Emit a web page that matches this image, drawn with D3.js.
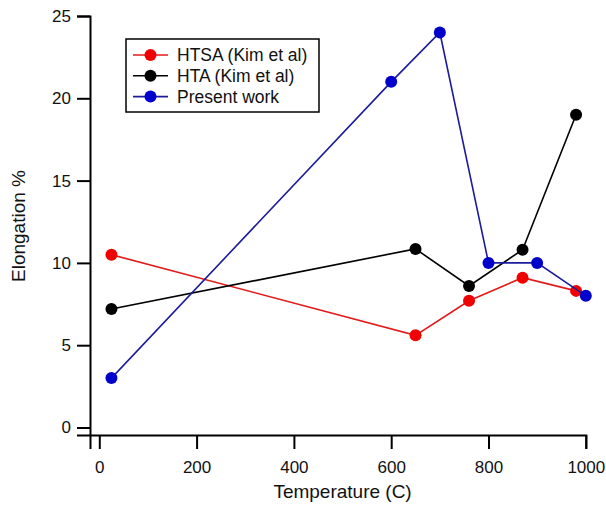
<!DOCTYPE html>
<html>
<head>
<meta charset="utf-8">
<script src="https://cdn.jsdelivr.net/npm/d3@7"></script>
<style>
  html, body { margin: 0; padding: 0; background: #fff; }
  svg { display: block; font-family: "Liberation Sans", Arial, sans-serif; }
</style>
</head>
<body>
<svg id="chart" width="606" height="506"></svg>
<script>
// Elongation vs temperature for three heat-treatment series
const htsaTemp = [25, 650, 760, 870, 980];
const htsaElong = [10.5, 5.6, 7.7, 9.1, 8.3];

const htaTemp = [25, 650, 760, 870, 980];
const htaElong = [7.2, 10.85, 8.6, 10.8, 19.0];

const presentTemp = [25, 600, 700, 800, 900, 1000];
const presentElong = [3.0, 21.0, 24.0, 10.0, 10.0, 8.0];

const seriesNames = ["HTSA (Kim et al)", "HTA (Kim et al)", "Present work"];
const xTicks = [0, 200, 400, 600, 800, 1000];
const yTicks = [0, 5, 10, 15, 20, 25];

const FONT = "'Liberation Sans', Arial, sans-serif";

const series = [
  { name: seriesNames[0], xs: htsaTemp, ys: htsaElong, line: "#e31a1a", dot: "#f00000" },
  { name: seriesNames[1], xs: htaTemp, ys: htaElong, line: "#000000", dot: "#000000" },
  { name: seriesNames[2], xs: presentTemp, ys: presentElong, line: "#1c1c9c", dot: "#0000cc" }
];

const svg = d3.select("#chart");

// Axes sit at the plot frame edges, slightly beyond the data origin
const x = d3.scaleLinear().domain([-19.1, 1000]).range([90, 585.8]);
const y = d3.scaleLinear().domain([-0.456, 25]).range([435, 16]);

const xAxis = svg.append("g")
  .attr("transform", "translate(0,435)")
  .call(d3.axisBottom(x).tickValues(xTicks).tickFormat(d3.format("d"))
    .tickSizeOuter(0).tickSize(14).tickPadding(12));

const yAxis = svg.append("g")
  .attr("transform", "translate(90,0)")
  .call(d3.axisLeft(y).tickValues(yTicks).tickFormat(d3.format("d"))
    .tickSizeOuter(0).tickSize(13).tickPadding(6));

[xAxis, yAxis].forEach(g => {
  g.select(".domain").attr("stroke", "#000").attr("stroke-width", 2);
  g.selectAll(".tick line").attr("stroke", "#000").attr("stroke-width", 2);
  g.selectAll(".tick text")
    .attr("fill", "#111")
    .style("font-size", "17px")
    .style("font-family", FONT);
});

// Axis titles
svg.append("text")
  .attr("x", (x(0) + x(1000)) / 2)
  .attr("y", 498)
  .attr("text-anchor", "middle")
  .style("font-size", "19px")
  .style("font-family", FONT)
  .attr("fill", "#111")
  .text("Temperature (C)");

svg.append("text")
  .attr("transform", "translate(25,226) rotate(-90)")
  .attr("text-anchor", "middle")
  .style("font-size", "19px")
  .style("font-family", FONT)
  .attr("fill", "#111")
  .text("Elongation %");

// Series lines and markers
const line = d3.line().x(d => x(d[0])).y(d => y(d[1]));

series.forEach(s => {
  const pts = s.xs.map((v, i) => [v, s.ys[i]]);
  const g = svg.append("g");
  g.append("path")
    .attr("d", line(pts))
    .attr("fill", "none")
    .attr("stroke", s.line)
    .attr("stroke-width", 1.6);
  g.selectAll("circle")
    .data(pts)
    .join("circle")
    .attr("cx", d => x(d[0]))
    .attr("cy", d => y(d[1]))
    .attr("r", 6)
    .attr("fill", s.dot);
});

// Legend
const legend = svg.append("g").attr("transform", "translate(126,39)");
legend.append("rect")
  .attr("width", 193)
  .attr("height", 73)
  .attr("fill", "#fff")
  .attr("stroke", "#000")
  .attr("stroke-width", 1.5);

series.forEach((s, i) => {
  const row = legend.append("g").attr("transform", `translate(0,${16 + i * 20.8})`);
  row.append("line")
    .attr("x1", 7).attr("x2", 42)
    .attr("stroke", s.line)
    .attr("stroke-width", 1.6);
  row.append("circle")
    .attr("cx", 24.5)
    .attr("r", 6)
    .attr("fill", s.dot);
  row.append("text")
    .attr("x", 51)
    .attr("y", 6)
    .style("font-size", "17.5px")
    .style("font-family", FONT)
    .attr("fill", "#111")
    .text(s.name);
});
</script>
</body>
</html>
